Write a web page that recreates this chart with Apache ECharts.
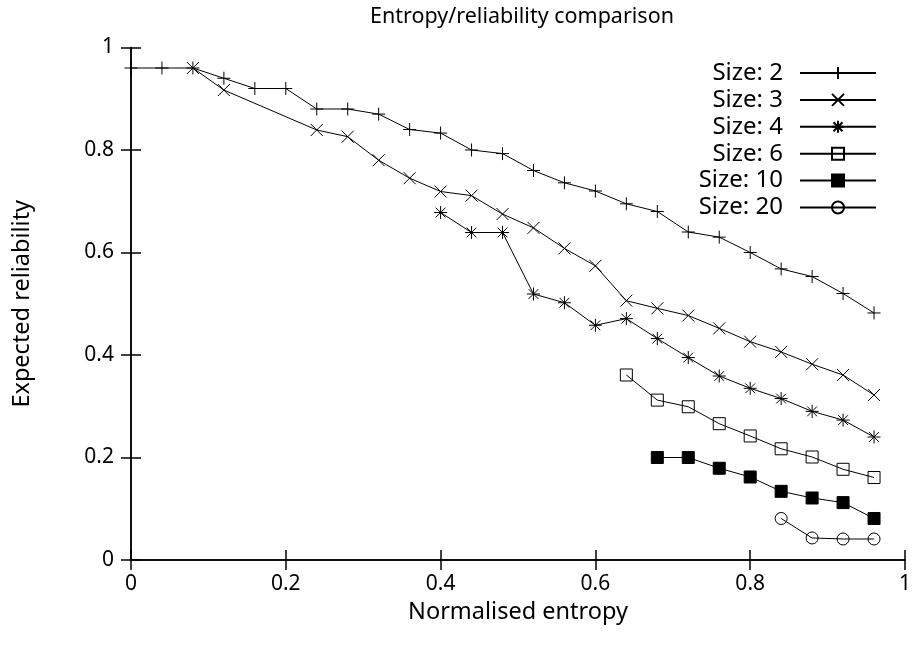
<!DOCTYPE html>
<html>
<head>
<meta charset="utf-8">
<script src="https://cdn.jsdelivr.net/npm/echarts@6/dist/echarts.min.js"></script>
<style>
  html, body { margin: 0; padding: 0; background: #fff; }
  #chart { width: 914px; height: 645px; }
</style>
</head>
<body>
<div id="chart"></div>
<script>
// values (x = normalised entropy, y = expected reliability)
var size2X = [0, 0.04, 0.08, 0.12, 0.16, 0.2, 0.24, 0.28, 0.32, 0.36, 0.4, 0.44, 0.48, 0.52, 0.56, 0.6, 0.64, 0.68, 0.72, 0.76, 0.8, 0.84, 0.88, 0.92, 0.96];
var size2Y = [0.96, 0.96, 0.96, 0.94, 0.92, 0.92, 0.88, 0.88, 0.87, 0.84, 0.833, 0.8, 0.793, 0.76, 0.736, 0.72, 0.695, 0.68, 0.64, 0.63, 0.6, 0.568, 0.553, 0.52, 0.482];

var size3X = [0.08, 0.12, 0.24, 0.28, 0.32, 0.36, 0.4, 0.44, 0.48, 0.52, 0.56, 0.6, 0.64, 0.68, 0.72, 0.76, 0.8, 0.84, 0.88, 0.92, 0.96];
var size3Y = [0.96, 0.917, 0.839, 0.826, 0.78, 0.745, 0.719, 0.711, 0.675, 0.648, 0.608, 0.574, 0.506, 0.491, 0.477, 0.452, 0.426, 0.406, 0.382, 0.361, 0.322];

var size4X = [0.4, 0.44, 0.48, 0.52, 0.56, 0.6, 0.64, 0.68, 0.72, 0.76, 0.8, 0.84, 0.88, 0.92, 0.96];
var size4Y = [0.678, 0.639, 0.639, 0.519, 0.502, 0.458, 0.471, 0.432, 0.395, 0.359, 0.335, 0.315, 0.29, 0.273, 0.24];

var size6X = [0.64, 0.68, 0.72, 0.76, 0.8, 0.84, 0.88, 0.92, 0.96];
var size6Y = [0.361, 0.312, 0.299, 0.266, 0.242, 0.217, 0.201, 0.177, 0.161];

var size10X = [0.68, 0.72, 0.76, 0.8, 0.84, 0.88, 0.92, 0.96];
var size10Y = [0.2, 0.2, 0.179, 0.162, 0.134, 0.121, 0.112, 0.081];

var size20X = [0.84, 0.88, 0.92, 0.96];
var size20Y = [0.081, 0.043, 0.041, 0.041];

var seriesNames = ["Size: 2", "Size: 3", "Size: 4", "Size: 6", "Size: 10", "Size: 20"];

var FONT = "Noto Sans";

function pairs(xs, ys) {
  return xs.map(function (x, i) { return [x, ys[i]]; });
}

// gnuplot style point types
var PLUS = "path://M0,6L12,6M6,0L6,12";
var CROSS = "path://M0,0L12,12M0,12L12,0";
var STAR = "path://M0,6L12,6M6,0L6,12M1.5,1.5L10.5,10.5M1.5,10.5L10.5,1.5";

function makeSeries(name, xs, ys, symbol, fill, size) {
  return {
    name: name,
    type: "line",
    data: pairs(xs, ys),
    symbol: symbol,
    symbolSize: size,
    showAllSymbol: true,
    animation: false,
    lineStyle: { color: "#000", width: 1 },
    itemStyle: { color: fill, borderColor: "#000", borderWidth: 1 },
    emphasis: { disabled: true }
  };
}

var myChart = echarts.init(document.getElementById("chart"));

var option = {
  backgroundColor: "#fff",
  animation: false,
  title: {
    text: "Entropy/reliability comparison",
    left: 517,
    textAlign: "center",
    top: 1,
    textStyle: { fontFamily: FONT, fontSize: 21.5, fontWeight: "normal", color: "#000" }
  },
  legend: {
    orient: "vertical",
    right: 32,
    top: 56,
    align: "right",
    itemWidth: 76,
    itemHeight: 15,
    itemGap: 2.9,
    data: seriesNames,
    selectedMode: false,
    textStyle: { fontFamily: FONT, fontSize: 24, color: "#000", padding: [0, 12, 0, 0] }
  },
  grid: {
    left: 131,
    right: 6,
    top: 47.5,
    bottom: 85
  },
  xAxis: [
    {
      type: "value",
      min: 0,
      max: 1,
      interval: 0.2,
      name: "Normalised entropy",
      nameLocation: "middle",
      nameGap: 40,
      nameTextStyle: { fontFamily: FONT, fontSize: 23.5, color: "#000" },
      axisLine: { lineStyle: { color: "#000", width: 1.5 } },
      axisTick: { inside: true, length: 10, lineStyle: { color: "#000", width: 1.5 } },
      axisLabel: { fontFamily: FONT, fontSize: 21, color: "#000", margin: 14 },
      splitLine: { show: false }
    },
    {
      type: "value",
      position: "top",
      min: 0,
      max: 1,
      interval: 0.2,
      axisLine: { lineStyle: { color: "#000", width: 1.5 } },
      axisTick: { inside: true, length: 10, lineStyle: { color: "#000", width: 1.5 } },
      axisLabel: { show: false },
      splitLine: { show: false }
    }
  ],
  yAxis: [
    {
      type: "value",
      min: 0,
      max: 1,
      interval: 0.2,
      name: "Expected reliability",
      nameLocation: "middle",
      nameGap: 97,
      nameTextStyle: { fontFamily: FONT, fontSize: 23.5, color: "#000" },
      axisLine: { show: true, lineStyle: { color: "#000", width: 1.5 } },
      axisTick: { show: true, inside: true, length: 10, lineStyle: { color: "#000", width: 1.5 } },
      axisLabel: { fontFamily: FONT, fontSize: 21, color: "#000", margin: 17 },
      splitLine: { show: false }
    },
    {
      type: "value",
      position: "right",
      min: 0,
      max: 1,
      interval: 0.2,
      axisLine: { show: true, lineStyle: { color: "#000", width: 1.5 } },
      axisTick: { show: true, inside: true, length: 10, lineStyle: { color: "#000", width: 1.5 } },
      axisLabel: { show: false },
      splitLine: { show: false }
    }
  ],
  series: [
    makeSeries(seriesNames[0], size2X, size2Y, PLUS, "none", 13),
    makeSeries(seriesNames[1], size3X, size3Y, CROSS, "none", 12),
    makeSeries(seriesNames[2], size4X, size4Y, STAR, "none", 13),
    makeSeries(seriesNames[3], size6X, size6Y, "rect", "none", 12),
    makeSeries(seriesNames[4], size10X, size10Y, "rect", "#000", 12),
    makeSeries(seriesNames[5], size20X, size20Y, "circle", "none", 12)
  ]
};

myChart.setOption(option);
</script>
</body>
</html>
